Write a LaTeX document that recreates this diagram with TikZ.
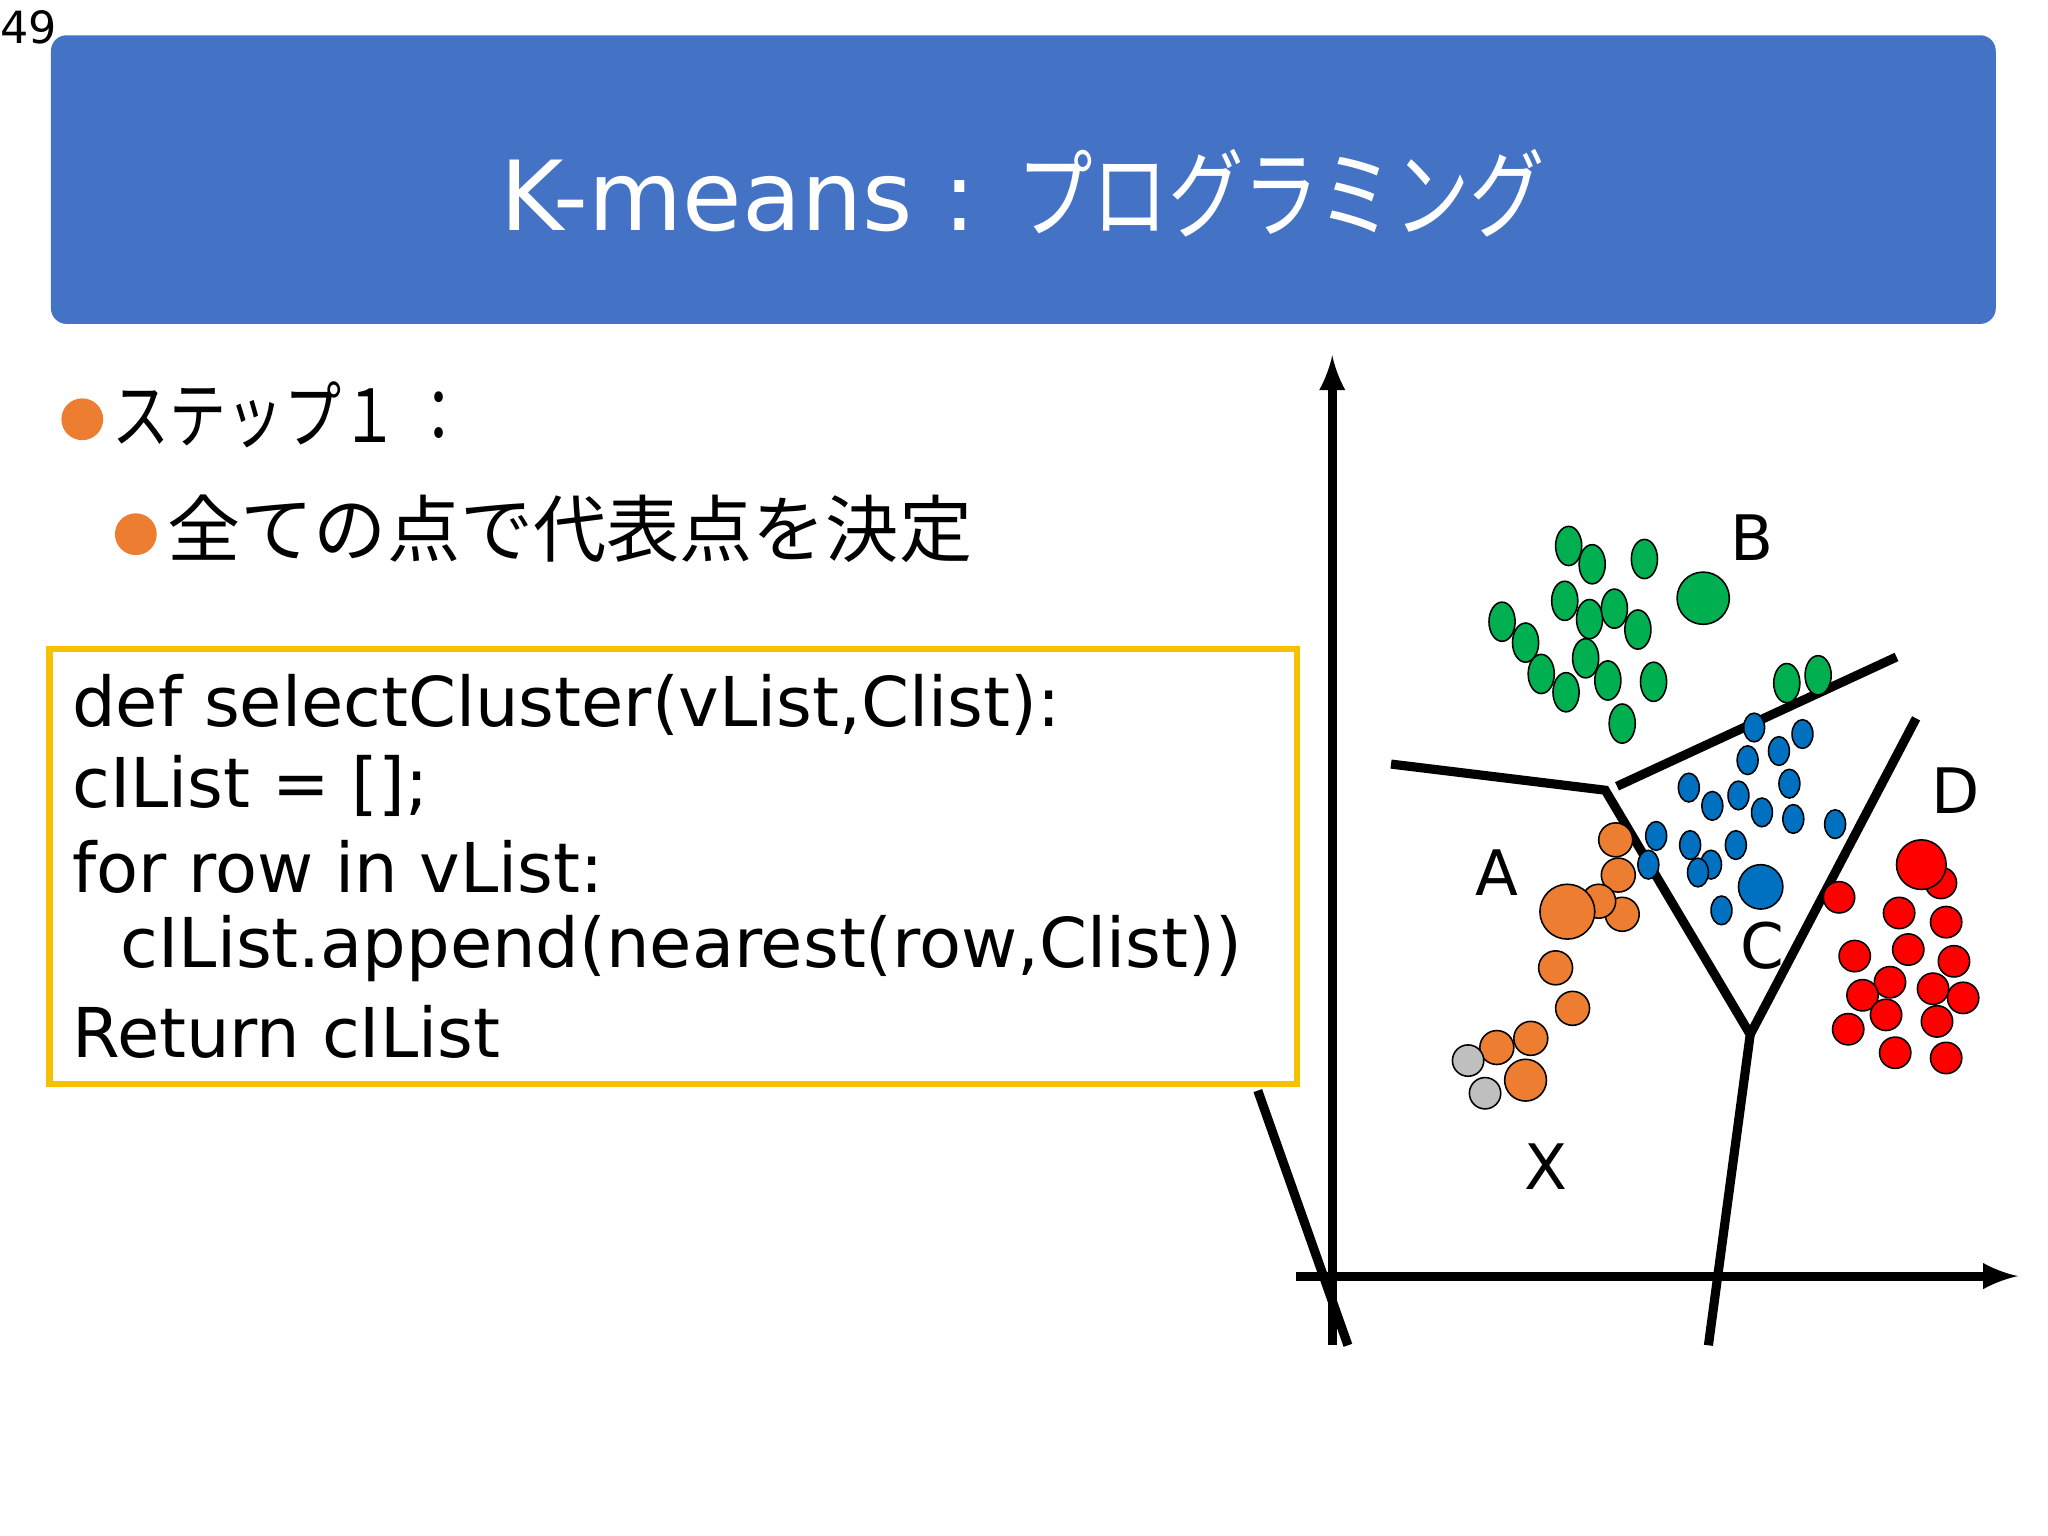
\documentclass[tikz,border=0pt]{standalone}
\usepackage{fontspec}
\setmainfont{DejaVu Sans}
\newfontfamily\jp{Noto Sans CJK JP}
\newfontfamily\jpn[FakeStretch=0.78]{Noto Sans CJK JP}
\definecolor{titleblue}{HTML}{4472C4}
\definecolor{borange}{HTML}{ED7D31}
\definecolor{boxyel}{HTML}{F7C100}
\definecolor{dgreen}{HTML}{00B050}
\definecolor{dblue}{HTML}{0070C0}
\begin{document}
\begin{tikzpicture}[x=0.5pt,y=-0.5pt,
  thk/.style={line width=3.5pt},
  gdot/.style={draw=black,line width=0.6pt,fill=dgreen},
  bdot/.style={draw=black,line width=0.6pt,fill=dblue},
  odot/.style={draw=black,line width=0.6pt,fill=borange},
  rdot/.style={draw=black,line width=0.6pt,fill=red},
  ydot/.style={draw=black,line width=0.6pt,fill=gray!50},
  lbl/.style={font=\fontsize{24}{28}\selectfont,inner sep=0pt},
  code/.style={anchor=west,font=\fontsize{26.3}{30}\selectfont,inner sep=0pt}]
\useasboundingbox (0,0) rectangle (1568,1176);
\fill[white] (0,0) rectangle (1568,1176);
\node[anchor=north west,inner sep=0pt,font=\fontsize{17}{20}\selectfont] (pg) at (0,8) {49};
\fill[titleblue,rounded corners=6pt] (39,27) -- (1528,27) -- (1528,248) -- (39,248) -- cycle;
\node[white,font=\fontsize{37}{46}\selectfont] (title) at (783,148) {K-means : {\jpn プログラミング}};
% bullets
\fill[borange] (63,321) circle (16);
\node[anchor=west,inner sep=0pt,font=\fontsize{28}{32}\selectfont\jpn] (s1) at (86,318) {ステップ１ ：};
\fill[borange] (104,409) circle (16);
\node[anchor=west,inner sep=0pt,font=\fontsize{28}{32}\selectfont\jp] (s2) at (128,405) {全ての点で代表点を決定};
% lines
\draw[thk] (963,835) -- (1032,1030);
\draw[thk,-latex] (1020,1030) -- (1020,272);
\draw[thk,-latex] (992,977) -- (1545,977);
\coordinate (p1) at (1065,585); \coordinate (p2) at (1229,605);
\coordinate (p3) at (1340,792); \coordinate (p4) at (1308,1030);
\draw[thk] (p1) -- (p2) -- (p3) -- (p4);
\draw[thk] (1238,602) -- (1452,503);
\draw[thk] (p3) -- (1467,550);
% box
\draw[boxyel,line width=2.5pt,fill=white] (38,497) rectangle (993,830);
\node[code] (c1) at (55,540) {def selectCluster(vList,Clist):};
\node[code] (c2) at (55,602) {cIList = [];};
\node[code] (c3) at (55,664) {for row in vList:};
\node[code] (c4) at (92,726) {cIList.append(nearest(row,Clist))};
\node[code] (c5) at (55,790) {Return cIList};
% green
\foreach \x/\y in {1201/418,1219/432,1259/428,1198/460,1217/474,1236/466,1254/482,1150/476,1168/492,1214/504,1180/516,1199/530,1231/521,1266/522,1242/554,1368/523,1392/517}
  \draw[gdot] (\x,\y) ellipse (10 and 15);
\draw[gdot] (1304,458) circle (20);
% blue
\foreach \x/\y in {1343/557,1362/575,1380/562,1338/582,1293/603,1311/617,1331/609,1349/622,1370/600,1373/627,1405/631,1268/640,1294/647,1310/662,1300/668,1329/647,1262/662,1318/697}
  \draw[bdot] (\x,\y) ellipse (8 and 11);
\draw[bdot] (1348,679) circle (17);
% orange
\foreach \x/\y in {1237/643,1239/670,1242/700,1224/690,1191/741,1204/772,1172/795,1146/802}
  \draw[odot] (\x,\y) circle (13);
\draw[odot] (1168,827) circle (16);
\draw[odot] (1200,698) circle (21);
\draw[ydot] (1124,812) circle (12);
\draw[ydot] (1137,837) circle (12);
% red
\foreach \x/\y in {1486/676,1408/687,1454/699,1490/706,1420/732,1461/727,1496/736,1447/752,1426/762,1480/757,1503/764,1415/788,1444/777,1483/782,1451/806,1490/810}
  \draw[rdot] (\x,\y) circle (12);
\draw[rdot] (1471,662) circle (19);
% labels
\node[lbl] (lb) at (1341,412) {B};
\node[lbl] (ld) at (1497,605) {D};
\node[lbl] (la) at (1146,668) {A};
\node[lbl] (lc) at (1349,724) {C};
\node[lbl] (lx) at (1184,893) {X};
\end{tikzpicture}
\end{document}
